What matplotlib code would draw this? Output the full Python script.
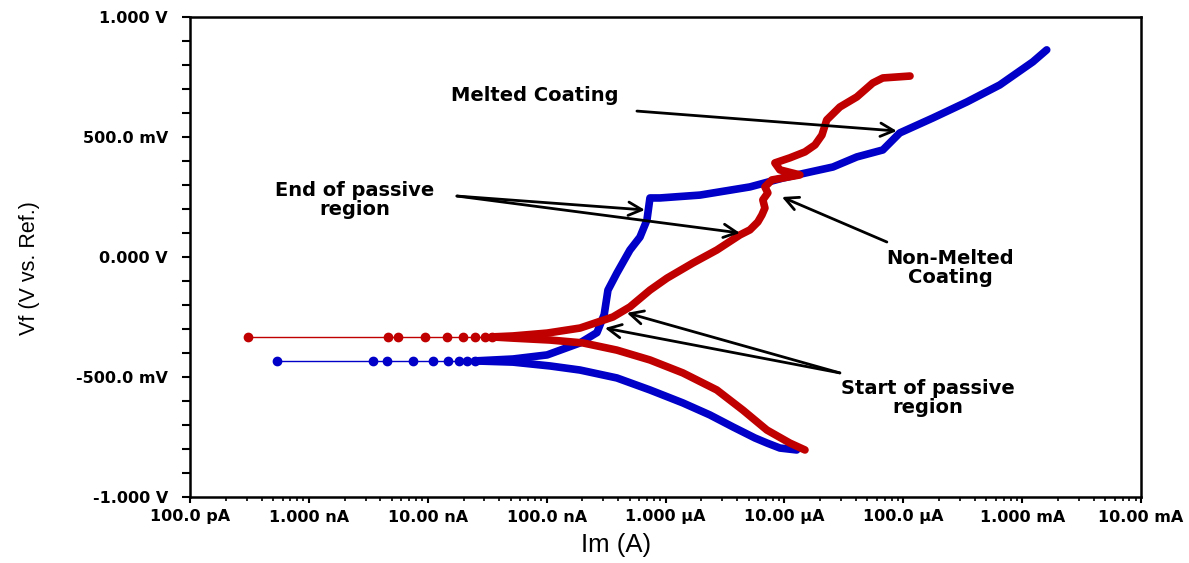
import matplotlib
matplotlib.use("Agg")
import matplotlib.pyplot as plt
from matplotlib.ticker import FixedLocator, FixedFormatter, LogLocator, NullFormatter

# ---------------- data (current in A, potential in V) ----------------
# Blue curve (Melted Coating)
blue_sparse_i = [5.4e-10, 3.46e-9, 4.54e-9, 7.5e-9, 1.11e-8, 1.48e-8, 1.83e-8, 2.14e-8, 2.49e-8]
blue_sparse_v = [-0.433, -0.433, -0.433, -0.433, -0.433, -0.433, -0.433, -0.433, -0.433]

blue_cath_i = [2.49e-8, 5.21e-8, 1.07e-7, 1.91e-7, 3.90e-7, 7.40e-7, 1.40e-6, 2.36e-6,
               3.69e-6, 5.65e-6, 7.13e-6, 9.17e-6, 1.27e-5]
blue_cath_v = [-0.433, -0.438, -0.454, -0.471, -0.504, -0.554, -0.608, -0.658,
               -0.708, -0.754, -0.775, -0.796, -0.804]

blue_anod_i = [2.49e-8, 5.21e-8, 1.01e-7, 1.91e-7, 2.65e-7, 3.05e-7, 3.28e-7, 3.90e-7,
               5.02e-7, 6.10e-7, 6.98e-7, 7.40e-7, 8.97e-7, 1.95e-6, 5.13e-6, 9.70e-6,
               1.64e-5, 2.56e-5, 4.07e-5, 6.73e-5, 9.35e-5, 1.77e-4, 3.43e-4, 6.49e-4,
               1.23e-3, 1.61e-3]
blue_anod_v = [-0.433, -0.425, -0.408, -0.358, -0.315, -0.240, -0.138, -0.067,
               0.029, 0.083, 0.154, 0.246, 0.246, 0.258, 0.292, 0.329,
               0.354, 0.375, 0.417, 0.446, 0.517, 0.579, 0.646, 0.717,
               0.813, 0.863]

# Red curve (Non-Melted Coating)
red_sparse_i = [3.08e-10, 4.62e-9, 5.61e-9, 9.46e-9, 1.45e-8, 1.98e-8, 2.49e-8, 3.03e-8, 3.47e-8]
red_sparse_v = [-0.333, -0.333, -0.333, -0.333, -0.333, -0.333, -0.333, -0.333, -0.333]

red_cath_i = [3.47e-8, 5.21e-8, 1.07e-7, 2.02e-7, 3.90e-7, 7.40e-7, 1.40e-6, 2.70e-6,
              4.48e-6, 7.13e-6, 1.11e-5, 1.49e-5]
red_cath_v = [-0.333, -0.338, -0.346, -0.358, -0.388, -0.429, -0.483, -0.554,
              -0.638, -0.721, -0.775, -0.804]

red_anod_i = [3.47e-8, 5.21e-8, 1.01e-7, 1.91e-7, 3.61e-7, 5.02e-7, 7.40e-7, 1.03e-6,
              1.70e-6, 2.70e-6, 4.23e-6, 5.13e-6, 5.98e-6, 6.47e-6, 6.86e-6, 6.59e-6,
              7.26e-6, 6.86e-6, 7.85e-6, 1.35e-5, 9.17e-6, 8.32e-6, 1.11e-5, 1.49e-5,
              1.81e-5, 2.07e-5, 2.27e-5, 2.93e-5, 4.07e-5, 5.54e-5, 6.73e-5, 1.14e-4]
red_anod_v = [-0.333, -0.329, -0.317, -0.296, -0.250, -0.208, -0.138, -0.088,
              -0.025, 0.029, 0.092, 0.113, 0.146, 0.175, 0.204, 0.238,
              0.267, 0.292, 0.321, 0.342, 0.363, 0.392, 0.413, 0.438,
              0.467, 0.508, 0.571, 0.625, 0.667, 0.725, 0.746, 0.754]

# axis ticks
x_major = [1e-10, 1e-9, 1e-8, 1e-7, 1e-6, 1e-5, 1e-4, 1e-3, 1e-2]
x_labels = ["100.0 pA", "1.000 nA", "10.00 nA", "100.0 nA", "1.000 µA",
            "10.00 µA", "100.0 µA", "1.000 mA", "10.00 mA"]
y_major = [-1.0, -0.5, 0.0, 0.5, 1.0]
y_labels = ["-1.000 V", "-500.0 mV", "0.000 V", "500.0 mV", "1.000 V"]
y_minor = [-0.9, -0.8, -0.7, -0.6, -0.4, -0.3, -0.2, -0.1,
           0.1, 0.2, 0.3, 0.4, 0.6, 0.7, 0.8, 0.9]

# ---------------- figure ----------------
BLUE = "#0000C8"
RED = "#C00000"

fig = plt.figure(figsize=(11.89, 5.63), dpi=100)
ax = fig.add_axes([190 / 1189, 1 - 497 / 563, 951 / 1189, 480 / 563])
ax.set_xscale("log")
ax.set_xlim(1e-10, 1e-2)
ax.set_ylim(-1.0, 1.0)

thick = dict(lw=5.5, solid_capstyle="round", solid_joinstyle="round")
# blue
ax.plot(blue_sparse_i, blue_sparse_v, color=BLUE, lw=1.0, marker="o", ms=6, mec=BLUE)
ax.plot(blue_cath_i, blue_cath_v, color=BLUE, **thick)
ax.plot(blue_anod_i, blue_anod_v, color=BLUE, **thick)
# red
ax.plot(red_sparse_i, red_sparse_v, color=RED, lw=1.0, marker="o", ms=6, mec=RED)
ax.plot(red_cath_i, red_cath_v, color=RED, **thick)
ax.plot(red_anod_i, red_anod_v, color=RED, **thick)

# ticks
ax.xaxis.set_major_locator(FixedLocator(x_major))
ax.xaxis.set_major_formatter(FixedFormatter(x_labels))
ax.xaxis.set_minor_locator(LogLocator(base=10, subs=[2, 3, 4, 5, 6, 7, 8, 9], numticks=20))
ax.xaxis.set_minor_formatter(NullFormatter())
ax.yaxis.set_major_locator(FixedLocator(y_major))
ax.yaxis.set_major_formatter(FixedFormatter(y_labels))
ax.yaxis.set_minor_locator(FixedLocator(y_minor))

for lab in ax.get_xticklabels() + ax.get_yticklabels():
    lab.set_fontfamily("DejaVu Sans")
    lab.set_fontweight("bold")
    lab.set_fontsize(11.5)

ax.tick_params(axis="y", which="both", direction="out", length=6, width=1.5, pad=10)
ax.tick_params(axis="x", which="major", direction="out", length=4, width=1.5, pad=5)
ax.tick_params(axis="x", which="minor", direction="out", length=3, width=1.2)

for s in ax.spines.values():
    s.set_linewidth(1.8)
    s.set_color("black")

# axis labels
sans = ["Liberation Sans", "DejaVu Sans"]
fig.text(616 / 1189, 1 - 545 / 563, "Im (A)", ha="center", va="center",
         fontsize=18.5, family=sans)
fig.text(30 / 1189, 1 - 268 / 563, "Vf (V vs. Ref.)", ha="center", va="center",
         rotation=90, fontsize=15.5, family=sans)

# annotations
txt = dict(fontsize=14, fontweight="bold", family="DejaVu Sans", ha="center",
           va="center", linespacing=1.05)
arrow = dict(arrowstyle="->", lw=2.0, color="black", mutation_scale=24,
             shrinkA=0, shrinkB=0)

ax.text(7.98e-8, 0.671, "Melted Coating", **txt)
ax.annotate("", xy=(8.83e-5, 0.525), xytext=(5.75e-7, 0.608), arrowprops=arrow)

ax.text(2.44e-9, 0.2375, "End of passive\nregion", **txt)
ax.annotate("", xy=(6.71e-7, 0.196), xytext=(1.76e-8, 0.254), arrowprops=arrow)
ax.annotate("", xy=(4.23e-6, 0.100), xytext=(1.76e-8, 0.254), arrowprops=arrow)

ax.text(2.47e-4, -0.046, "Non-Melted\nCoating", **txt)
ax.annotate("", xy=(9.53e-6, 0.25), xytext=(7.28e-5, 0.0625), arrowprops=arrow)

ax.text(1.61e-4, -0.5875, "Start of passive\nregion", **txt)
ax.annotate("", xy=(4.73e-7, -0.233), xytext=(2.93e-5, -0.483), arrowprops=arrow)
ax.annotate("", xy=(3.09e-7, -0.296), xytext=(2.93e-5, -0.483), arrowprops=arrow)

fig.savefig("out.png", dpi=100)
